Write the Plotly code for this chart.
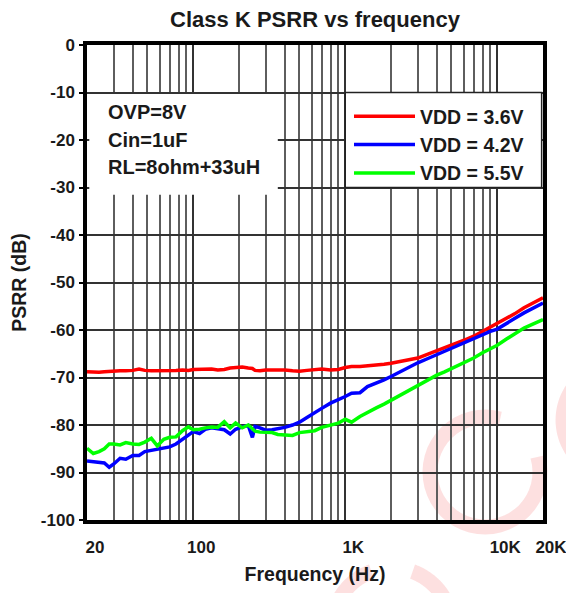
import math
import plotly.graph_objects as go

# ---------------- data ----------------
freq_hz = [20, 22, 24, 26, 28, 30, 33, 36, 40, 44, 48, 53, 58, 64, 70, 77, 85, 93,
           100, 110, 120, 132, 145, 160, 175, 190, 210, 230, 245, 255, 275, 300, 330,
           360, 400, 450, 500, 560, 630, 700, 800, 900, 1000, 1100, 1250, 1400, 1600,
           1800, 2000, 2300, 2600, 3000, 3500, 4000, 4500, 5000, 5600, 6300, 7000,
           8000, 9000, 10000, 11500, 13000, 15000, 17000, 20000]

psrr_vdd_3v6 = [-68.8, -68.9, -68.9, -68.8, -68.7, -68.7, -68.6, -68.6, -68.5, -68.2,
                -68.5, -68.6, -68.6, -68.5, -68.6, -68.5, -68.4, -68.5, -68.3, -68.3,
                -68.2, -68.2, -68.4, -68.3, -68.0, -67.9, -67.8, -68.0, -68.1, -68.5,
                -68.6, -68.4, -68.4, -68.3, -68.4, -68.6, -68.7, -68.5, -68.3, -68.2,
                -68.4, -68.3, -67.9, -67.7, -67.7, -67.6, -67.4, -67.2, -67.0, -66.6,
                -66.3, -65.9, -65.1, -64.4, -63.8, -63.3, -62.6, -61.9, -61.3, -60.3,
                -59.5, -58.7, -57.6, -56.6, -55.3, -54.3, -53.2]

psrr_vdd_4v2 = [-87.6, -87.8, -87.9, -88.0, -88.9, -88.2, -87.0, -87.2, -86.4, -86.4,
                -85.6, -85.3, -85.2, -84.9, -84.6, -84.0, -83.0, -82.0, -81.4, -81.8,
                -80.9, -80.6, -80.8, -81.0, -81.9, -80.9, -80.4, -80.1, -82.6, -80.3,
                -80.6, -81.1, -81.0, -80.8, -80.5, -80.0, -79.4, -78.4, -77.3, -76.5,
                -75.4, -74.7, -74.0, -73.3, -73.2, -71.9, -71.2, -70.5, -69.8, -68.8,
                -67.9, -66.9, -66.0, -65.2, -64.5, -63.9, -63.2, -62.4, -61.8, -60.9,
                -60.3, -59.8, -58.7, -57.6, -56.4, -55.4, -54.3]

psrr_vdd_5v5 = [-84.9, -86.0, -85.6, -85.0, -84.0, -84.0, -84.2, -83.7, -84.0, -84.1,
                -83.6, -82.8, -84.4, -83.0, -82.6, -82.5, -81.2, -80.4, -81.0, -80.9,
                -80.6, -80.4, -80.5, -79.3, -80.6, -79.6, -80.6, -80.0, -80.8, -81.3,
                -81.5, -81.6, -81.6, -82.0, -82.1, -82.2, -81.6, -81.4, -81.2, -80.5,
                -80.0, -79.6, -78.8, -79.4, -78.2, -77.3, -76.4, -75.6, -74.8, -73.6,
                -72.7, -71.7, -70.5, -69.5, -68.8, -68.1, -67.5, -66.6, -65.9, -64.8,
                -64.0, -63.2, -61.9, -60.8, -59.6, -58.8, -57.8]

series_names = ["VDD = 3.6V", "VDD = 4.2V", "VDD = 5.5V"]
series_colors = ["#ff0000", "#0000ff", "#00ff00"]

x_tick_vals = [20, 100, 1000, 10000, 20000]
x_tick_text = ["20", "100", "1K", "10K", "20K"]
x_minor_vals = [30, 40, 50, 60, 70, 80, 90, 200, 300, 400, 500, 600, 700, 800, 900,
                2000, 3000, 4000, 5000, 6000, 7000, 8000, 9000]
y_tick_vals = [0, -10, -20, -30, -40, -50, -60, -70, -80, -90, -100]
y_tick_text = ["0", "-10", "-20", "-30", "-40", "-50", "-60", "-70", "-80", "-90", "-100"]

notes = ["OVP=8V", "Cin=1uF", "RL=8ohm+33uH"]

# ---------------- figure ----------------
FONT = "Liberation Sans, Arial, Helvetica, sans-serif"
TXT = "#1a1a1a"

# page body has an 8px margin; figure is sized/placed to compensate
OFF = 8
FIG_W, FIG_H = 574 - OFF, 593 - OFF
# target plot area in window pixels
L, R, T, B = 87, 543, 45, 520
W, H = R - L, B - T

fig = go.Figure()
for name, col, vals in zip(series_names, series_colors,
                           [psrr_vdd_3v6, psrr_vdd_4v2, psrr_vdd_5v5]):
    fig.add_trace(go.Scatter(x=freq_hz, y=vals, mode="lines", name=name,
                             line=dict(color=col, width=3.5)))


def px2paper(px, py):
    return (px - L) / W, (B - py) / H


def arc_path(cx, cy, r, a0, a1, n=40):
    pts = []
    for i in range(n + 1):
        a = math.radians(a0 + (a1 - a0) * i / n)
        px, py = px2paper(cx + r * math.cos(a), cy + r * math.sin(a))
        pts.append(f"{px:.4f},{py:.4f}")
    return "M" + " L".join(pts)


shapes = []
# faint watermark arcs
wm = dict(color="rgba(240,0,0,0.12)", width=15)
for cx, cy, r, a0, a1 in [(485, 472, 55, -16, 286),
                          (618, 420, 55, 110, 250),
                          (392, 628, 60, 175, 250),
                          (392, 628, 60, 290, 330)]:
    shapes.append(dict(type="path", xref="paper", yref="paper",
                       path=arc_path(cx, cy, r, a0, a1), line=wm, layer="below"))

# note box (white, covers grid)
shapes.append(dict(type="rect", xref="paper", yref="paper",
                   x0=0.005, x1=(math.log10(360) - math.log10(20)) / 3.0,
                   y0=0.685, y1=0.897, fillcolor="white", line=dict(width=0),
                   layer="above"))
# legend box
shapes.append(dict(type="rect", xref="paper", yref="paper",
                   x0=(3 - math.log10(20)) / 3.0, x1=0.997, y0=0.70, y1=0.90,
                   fillcolor="white", line=dict(color="#222", width=1.5),
                   layer="above"))

annotations = []
for i, t in enumerate(notes):
    px, py = px2paper(106, 112 + 27.5 * i)
    annotations.append(dict(text=t, x=px, y=py, xref="paper", yref="paper",
                            xanchor="left", yanchor="middle", showarrow=False,
                            font=dict(family=FONT, size=20, color=TXT, weight="bold")))

fig.update_layout(
    width=FIG_W, height=FIG_H,
    margin=dict(l=L - OFF, r=FIG_W - (R - OFF), t=T - OFF, b=FIG_H - (B - OFF),
                autoexpand=False),
    paper_bgcolor="white", plot_bgcolor="white",
    title=dict(text="Class K PSRR vs frequency", x=0.5, xref="paper",
               y=1 - (19.5 - OFF) / FIG_H, yref="container", xanchor="center",
               yanchor="middle",
               font=dict(family=FONT, size=22, color=TXT, weight="bold")),
    showlegend=True,
    legend=dict(x=(349 - L) / W, y=(B - 97) / H, xanchor="left", yanchor="top",
                bgcolor="rgba(0,0,0,0)", borderwidth=0,
                font=dict(family=FONT, size=19.5, color=TXT, weight="bold"),
                itemwidth=61, tracegroupgap=0),
    shapes=shapes,
    annotations=annotations,
)

fig.update_xaxes(
    type="log", range=[math.log10(20), math.log10(20000)],
    tickvals=x_tick_vals, ticktext=x_tick_text,
    showgrid=True, gridcolor="#333", gridwidth=2,
    minor=dict(tickvals=x_minor_vals, showgrid=True, gridcolor="#5e5e5e", gridwidth=1.8),
    showline=True, linecolor="black", linewidth=3.5, mirror=True,
    ticks="", ticklabelstandoff=9, ticklabelshift=8,
    tickfont=dict(family=FONT, size=17, color=TXT, weight="bold"),
    title=dict(text="Frequency (Hz)", standoff=12,
               font=dict(family=FONT, size=19.5, color=TXT, weight="bold")),
    zeroline=False, automargin=False,
)
fig.update_yaxes(
    range=[-100, 0], tickvals=y_tick_vals, ticktext=y_tick_text,
    showgrid=True, gridcolor="#333", gridwidth=2,
    showline=True, linecolor="black", linewidth=3.5, mirror=True,
    ticks="outside", ticklen=4, tickwidth=2, tickcolor="black",
    ticklabelstandoff=1,
    tickfont=dict(family=FONT, size=17, color=TXT, weight="bold"),
    title=dict(text="PSRR (dB)", standoff=12,
               font=dict(family=FONT, size=19.5, color=TXT, weight="bold")),
    zeroline=False, automargin=False,
)

fig.write_html("out.html")
